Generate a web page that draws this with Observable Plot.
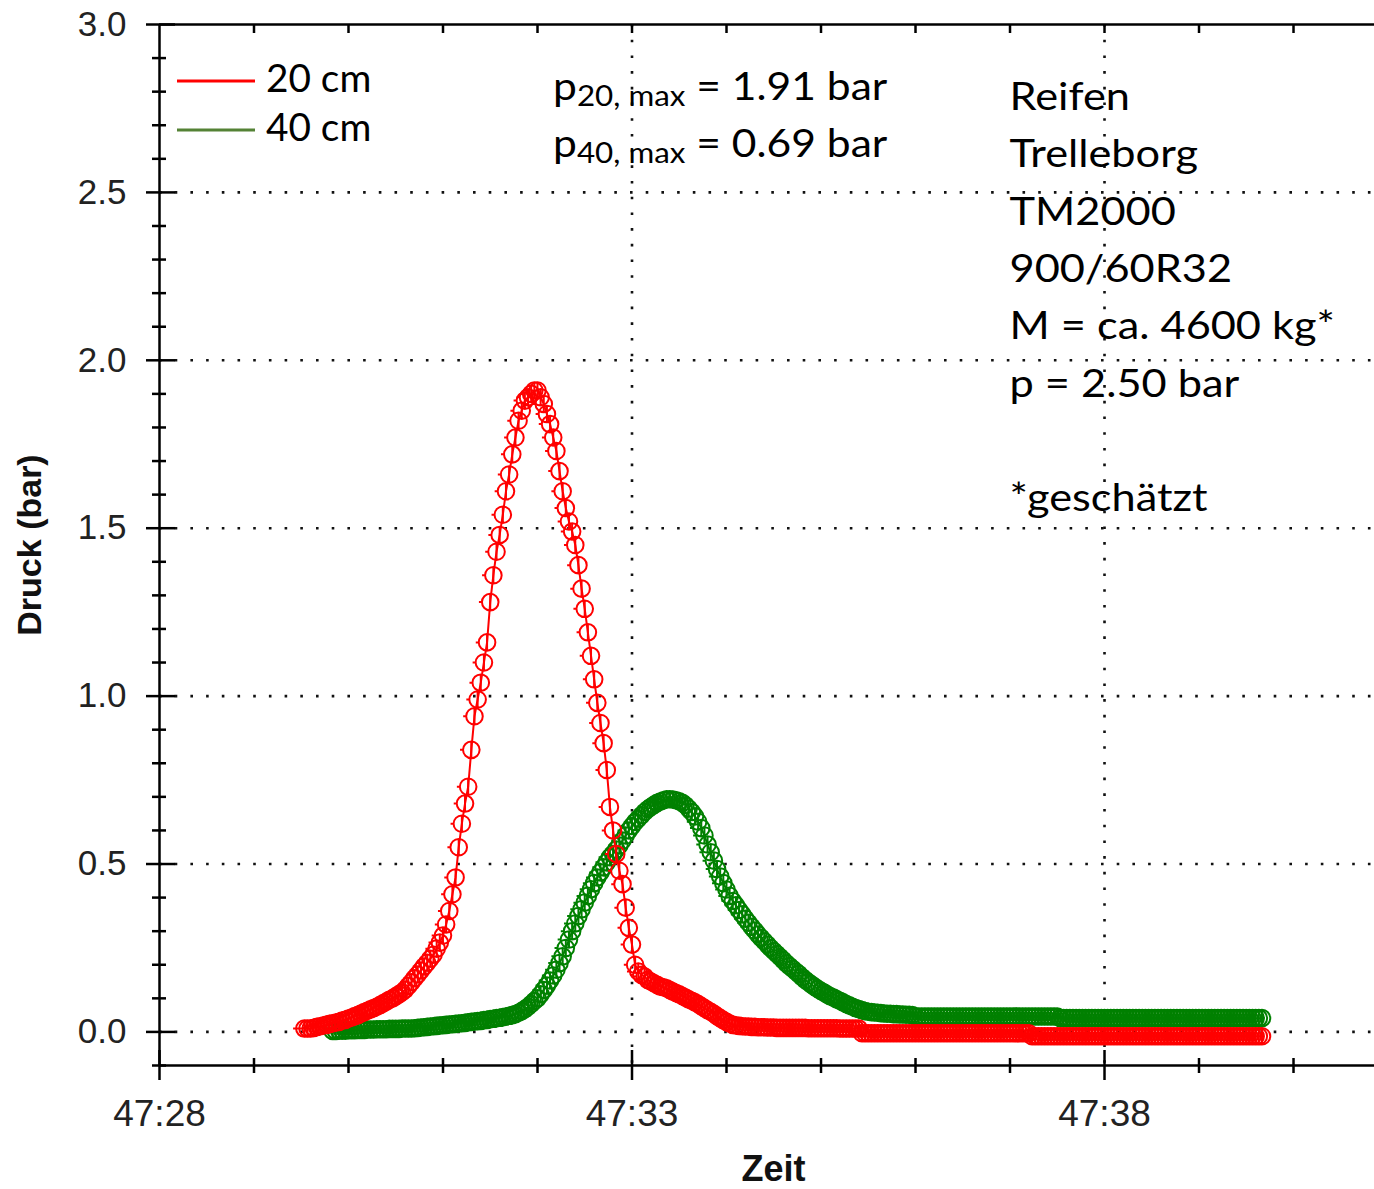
<!DOCTYPE html>
<html><head><meta charset="utf-8">
<script src="https://cdn.jsdelivr.net/npm/d3@7"></script>
<script src="https://cdn.jsdelivr.net/npm/@observablehq/plot@0.6"></script>
<style>
html,body{margin:0;padding:0;background:#fff;}
#chart{width:1374px;height:1189px;overflow:hidden;}
</style></head><body><div id="chart"></div>
<script>
// ---------------- data ----------------
const series = ["20 cm", "40 cm"];
const seriesColors = ["#ff0000", "#008000"];
const legendColors = ["#ff0000", "#548235"];
const sampleInterval = 1 / 30;   // seconds between samples
const start20 = 2849.533;        // 47:29.53 (mm*60 + ss)
const start40 = 2849.833;        // 47:29.83

const p20 = [
0.010,0.010,0.010,0.012,0.015,0.017,0.019,0.021,0.024,0.026,
0.028,0.030,0.034,0.036,0.040,0.043,0.047,0.050,0.055,0.059,
0.063,0.067,0.071,0.075,0.080,0.085,0.090,0.096,0.100,0.106,
0.112,0.118,0.126,0.137,0.148,0.160,0.171,0.183,0.195,0.206,
0.218,0.230,0.248,0.266,0.287,0.320,0.360,0.410,0.460,0.550,
0.620,0.680,0.730,0.840,0.940,0.990,1.040,1.100,1.160,1.280,
1.360,1.430,1.480,1.540,1.610,1.660,1.720,1.770,1.820,1.850,
1.880,1.890,1.900,1.910,1.910,1.890,1.870,1.840,1.810,1.770,
1.730,1.670,1.610,1.560,1.520,1.490,1.450,1.390,1.320,1.260,
1.190,1.120,1.050,0.980,0.920,0.860,0.780,0.670,0.600,0.530,
0.480,0.440,0.370,0.310,0.260,0.200,0.180,0.170,0.165,0.155,
0.150,0.145,0.140,0.135,0.133,0.130,0.125,0.120,0.116,0.112,
0.107,0.102,0.097,0.093,0.088,0.083,0.077,0.071,0.065,0.060,
0.054,0.047,0.041,0.035,0.030,0.025,0.021,0.019,0.018,0.017,
0.016,0.016,0.015,0.015,0.014,0.014,0.014,0.013,0.013,0.013,
0.012,0.012,0.012,0.012,0.012,0.012,0.012,0.012,0.012,0.012,
0.011,0.011,0.011,0.011,0.011,0.011,0.011,0.011,0.011,0.011,
0.010,0.010,0.010,0.010,0.010,0.010,0.010,
-0.004,-0.004,-0.004,-0.004,-0.004,-0.004,-0.004,-0.004,-0.004,-0.004,
-0.004,-0.004,-0.004,-0.004,-0.004,-0.004,-0.004,-0.004,-0.004,-0.004,
-0.004,-0.004,-0.004,-0.004,-0.004,-0.004,-0.004,-0.004,-0.004,-0.004,
-0.004,-0.004,-0.004,-0.004,-0.004,-0.004,-0.004,-0.004,-0.004,-0.004,
-0.004,-0.004,-0.004,-0.004,-0.004,-0.004,-0.004,-0.004,-0.004,-0.004,
-0.004,-0.004,-0.004,-0.004,
-0.013,-0.013,-0.013,-0.013,-0.013,-0.013,-0.013,-0.013,-0.013,-0.013,
-0.013,-0.013,-0.013,-0.013,-0.013,-0.013,-0.013,-0.013,-0.013,-0.013,
-0.013,-0.013,-0.013,-0.013,-0.013,-0.013,-0.013,-0.013,-0.013,-0.013,
-0.013,-0.013,-0.013,-0.013,-0.013,-0.013,-0.013,-0.013,-0.013,-0.013,
-0.013,-0.013,-0.013,-0.013,-0.013,-0.013,-0.013,-0.013,-0.013,-0.013,
-0.013,-0.013,-0.013,-0.013,-0.013,-0.013,-0.013,-0.013,-0.013,-0.013,
-0.013,-0.013,-0.013,-0.013,-0.013,-0.013,-0.013,-0.013,-0.013,-0.013,
-0.013,-0.013,-0.013,-0.013
];

const p40 = [
0.003,0.003,0.004,0.004,0.004,0.005,0.005,0.005,0.006,0.006,
0.006,0.007,0.007,0.007,0.008,0.008,0.008,0.008,0.009,0.009,
0.009,0.009,0.010,0.010,0.010,0.010,0.011,0.012,0.013,0.014,
0.015,0.016,0.017,0.018,0.019,0.020,0.021,0.022,0.023,0.024,
0.025,0.026,0.027,0.029,0.030,0.031,0.032,0.033,0.035,0.036,
0.038,0.039,0.041,0.042,0.044,0.046,0.048,0.050,0.053,0.057,
0.062,0.068,0.075,0.083,0.092,0.100,0.112,0.125,0.138,0.153,
0.168,0.185,0.205,0.225,0.250,0.275,0.300,0.323,0.345,0.365,
0.385,0.405,0.425,0.443,0.460,0.475,0.490,0.505,0.520,0.530,
0.543,0.555,0.570,0.585,0.600,0.613,0.625,0.635,0.645,0.655,
0.663,0.670,0.676,0.682,0.686,0.690,0.693,0.693,0.692,0.690,
0.687,0.682,0.675,0.665,0.655,0.642,0.626,0.607,0.585,0.558,
0.535,0.510,0.485,0.463,0.443,0.424,0.405,0.390,0.377,0.363,
0.350,0.337,0.325,0.313,0.302,0.290,0.280,0.270,0.260,0.250,
0.241,0.232,0.223,0.214,0.204,0.196,0.188,0.180,0.172,0.163,
0.155,0.148,0.141,0.134,0.128,0.122,0.117,0.111,0.106,0.102,
0.097,0.093,0.088,0.083,0.079,0.075,0.071,0.068,0.065,0.062,
0.060,0.059,0.058,0.057,0.056,0.055,0.054,0.054,0.053,0.053,
0.052,0.052,0.051,0.051,0.050,
0.046,0.046,0.046,0.046,0.046,0.046,0.046,0.046,0.046,0.046,
0.046,0.046,0.046,0.046,0.046,0.046,0.046,0.046,0.046,0.046,
0.046,0.046,0.046,0.046,0.046,0.046,0.046,0.046,0.046,0.046,
0.046,0.046,0.046,0.046,0.046,0.046,0.046,0.046,0.046,0.046,
0.046,0.046,0.046,0.046,0.046,0.046,
0.041,0.041,0.041,0.041,0.041,0.041,0.041,0.041,0.041,0.041,
0.041,0.041,0.041,0.041,0.041,0.041,0.041,0.041,0.041,0.041,
0.041,0.041,0.041,0.041,0.041,0.041,0.041,0.041,0.041,0.041,
0.041,0.041,0.041,0.041,0.041,0.041,0.041,0.041,0.041,0.041,
0.041,0.041,0.041,0.041,0.041,0.041,0.041,0.041,0.041,0.041,
0.041,0.041,0.041,0.041,0.041,0.041,0.041,0.041,0.041,0.041,
0.041,0.041,0.041,0.041,0.041
];

const xMajorTicks = [2848, 2853, 2858];
const xTickLabels = ["47:28", "47:33", "47:38"];
const xMinorTicks = [2849, 2850, 2851, 2852, 2854, 2855, 2856, 2857, 2859, 2860];
const xGridLines = [2853, 2858];
const yMajorTicks = [0, 0.5, 1, 1.5, 2, 2.5, 3];
const yTickLabels = ["0.0", "0.5", "1.0", "1.5", "2.0", "2.5", "3.0"];
const yMinorTicks = [-0.1, 0.1, 0.2, 0.3, 0.4, 0.6, 0.7, 0.8, 0.9, 1.1, 1.2, 1.3, 1.4,
  1.6, 1.7, 1.8, 1.9, 2.1, 2.2, 2.3, 2.4, 2.6, 2.7, 2.8, 2.9];
const yGridLines = [0, 0.5, 1, 1.5, 2, 2.5];
const maxSubscripts = ["20, max", "40, max"];
const maxValues = ["1.91", "0.69"];
const tyreInfo = ["Reifen", "Trelleborg", "TM2000", "900/60R32", "M = ca. 4600 kg*", "p = 2.50 bar", "", "*geschätzt"];
const xTitle = "Zeit";
const yTitle = "Druck (bar)";

// ---------------- chart ----------------
const W = 1374, H = 1189, mL = 159, mT = 24, mB = 124;
const xDomain = [2848, 2860.857];
const yDomain = [-0.1, 3];
const rows20 = p20.map((p, i) => ({t: start20 + i * sampleInterval, p}));
const rows40 = p40.map((p, i) => ({t: start40 + i * sampleInterval, p}));
const ink = "#000";
const dotted = {stroke: "#111", strokeOpacity: 1, strokeWidth: 2.6, strokeDasharray: "2.6 13.1"};

// marker: ring with a vertical bar and a small stub on the left
const ringBar = {
  draw(ctx, size) {
    const r = Math.sqrt(size / Math.PI);
    ctx.moveTo(r, 0);
    ctx.arc(0, 0, r, 0, 2 * Math.PI);
    ctx.moveTo(0, -r);
    ctx.lineTo(0, r);
    ctx.moveTo(-r, 0);
    ctx.lineTo(-r - 3, 0);
  }
};
const markerOpts = (color) => ({x: "t", y: "p", r: 8.3, symbol: ringBar, stroke: color, strokeWidth: 2, fill: "none"});

const plot = Plot.plot({
  width: W, height: H,
  marginLeft: mL, marginRight: 0, marginTop: mT, marginBottom: mB,
  x: {domain: xDomain, axis: null},
  y: {domain: yDomain, axis: null},
  style: {fontFamily: "'Liberation Sans', Arial, sans-serif", background: "#fff", overflow: "visible", color: "#222"},
  marks: [
    Plot.gridY(yGridLines, dotted),
    Plot.gridX(xGridLines, dotted),
    Plot.line(rows40, {x: "t", y: "p", stroke: seriesColors[1], strokeWidth: 2}),
    Plot.dot(rows40, markerOpts(seriesColors[1])),
    Plot.line(rows20, {x: "t", y: "p", stroke: seriesColors[0], strokeWidth: 2}),
    Plot.dot(rows20, markerOpts(seriesColors[0])),
    // frame lines
    Plot.ruleY([yDomain[1]], {stroke: ink, strokeWidth: 2.5}),
    Plot.ruleY([yDomain[0]], {stroke: ink, strokeWidth: 2.5}),
    Plot.ruleX([xDomain[0]], {stroke: ink, strokeWidth: 2.5}),
    // y ticks (crossing the axis)
    Plot.ruleY(yMajorTicks, {x1: xDomain[0], x2: xDomain[0], insetLeft: -13, insetRight: -16, stroke: ink, strokeWidth: 2.5}),
    Plot.ruleY(yMinorTicks, {x1: xDomain[0], x2: xDomain[0], insetLeft: -7, insetRight: -7, stroke: ink, strokeWidth: 2.5}),
    // x ticks
    Plot.ruleX(xMajorTicks, {y1: yDomain[0], y2: yDomain[0], insetTop: -15, insetBottom: -15, stroke: ink, strokeWidth: 2.5}),
    Plot.ruleX(xMinorTicks, {y1: yDomain[0], y2: yDomain[0], insetTop: -7, insetBottom: -8, stroke: ink, strokeWidth: 2.5}),
    // ticks on the top border
    Plot.ruleX([...xMajorTicks.slice(1), ...xMinorTicks], {y1: yDomain[1], y2: yDomain[1], insetTop: 0, insetBottom: -9, stroke: ink, strokeWidth: 2.5}),
    // tick labels
    Plot.axisY(yMajorTicks, {tickSize: 0, tickPadding: 33, fontSize: 35, label: null,
      tickFormat: d => yTickLabels[yMajorTicks.indexOf(d)]}),
    Plot.axisX(xMajorTicks, {tickSize: 0, tickPadding: 34, fontSize: 37, label: null,
      tickFormat: d => xTickLabels[xMajorTicks.indexOf(d)]}),
    // axis titles
    Plot.text([yTitle], {frameAnchor: "left", textAnchor: "middle", lineAnchor: "middle", rotate: -90, dx: -129,
      fontWeight: "bold", fontSize: 34, fill: "#111"}),
    Plot.text([xTitle], {frameAnchor: "bottom", textAnchor: "middle", lineAnchor: "middle", dx: 6.5, dy: 104,
      fontWeight: "bold", fontSize: 36, fill: "#111"})
  ]
});

document.getElementById("chart").appendChild(plot);

// ---------------- legend & annotations ----------------
const svg = d3.select(plot);
const xs = plot.scale("x");
const annFont = "Lato, 'Open Sans', sans-serif";
const ann = svg.append("g").attr("font-family", annFont).attr("fill", "#000")
  .attr("text-anchor", "start").style("white-space", "pre");

series.forEach((s, i) => {
  const yy = mT + 57 + i * 49;
  ann.append("line").attr("x1", mL + 18).attr("x2", mL + 96).attr("y1", yy).attr("y2", yy)
    .attr("stroke", legendColors[i]).attr("stroke-width", 3);
  ann.append("text").attr("transform", `translate(${mL + 107},${yy + 11}) scale(1.02,1)`)
    .attr("font-size", 38).text(s);
});

maxSubscripts.forEach((sub, i) => {
  const t = ann.append("text")
    .attr("transform", `translate(${xs.apply(2852.17)},${mT + 76 + i * 57}) scale(1.12,1)`)
    .attr("font-size", 38);
  t.append("tspan").text("p");
  t.append("tspan").attr("font-size", 28).attr("dy", 6).text(sub);
  t.append("tspan").attr("dy", -6).text(" = " + maxValues[i] + " bar");
});

tyreInfo.forEach((line, i) => {
  if (!line) return;
  ann.append("text")
    .attr("transform", `translate(${xs.apply(2857)},${mT + 86 + i * 57.3}) scale(1.14,1)`)
    .attr("font-size", 38).text(line);
});
</script>
</body></html>
